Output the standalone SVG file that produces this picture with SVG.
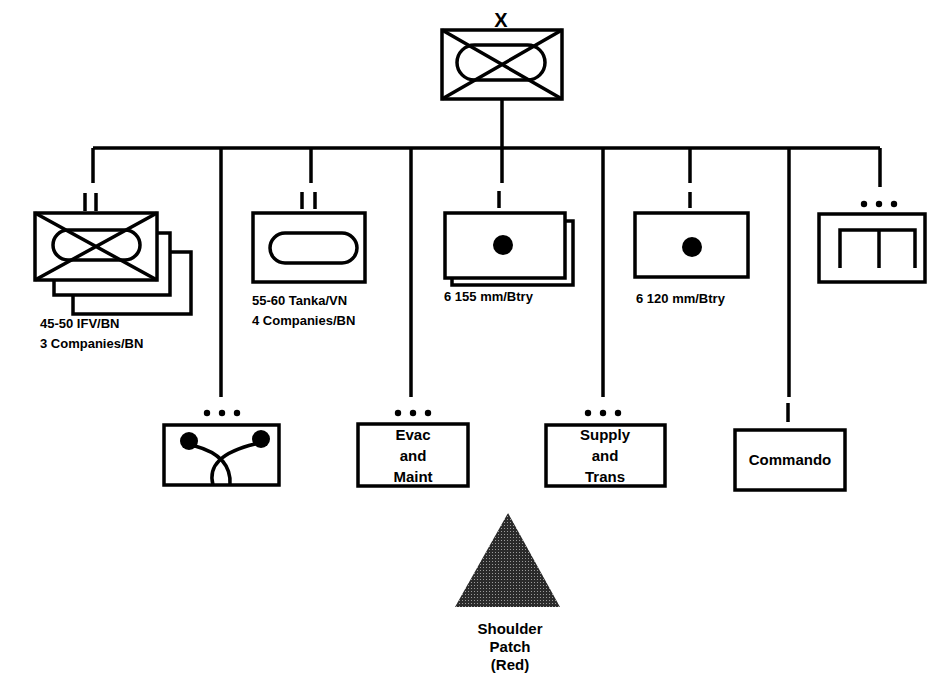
<svg xmlns="http://www.w3.org/2000/svg" width="931" height="688" viewBox="0 0 931 688">
<style>
.bx{fill:#fff;stroke:#000;stroke-width:3.5}
.ln{fill:none;stroke:#000;stroke-width:3.5}
.mk{fill:none;stroke:#000;stroke-width:3.5}
.t{font-family:"Liberation Sans",Arial,sans-serif;font-weight:bold;font-size:13px;fill:#000}
.tb{font-family:"Liberation Sans",Arial,sans-serif;font-weight:bold;font-size:15px;fill:#000;text-anchor:middle}
</style>
<defs>
<pattern id="ht" width="3" height="3" patternUnits="userSpaceOnUse">
<rect width="3" height="3" fill="#2a2a2a"/>
<rect width="1" height="1" fill="#9a9a9a"/>
</pattern>
</defs>
<g id="connectors" class="ln">
<path d="M502,99V183"/>
<path d="M93,148H880"/>
<path d="M93,148V183"/>
<path d="M311,148V183"/>
<path d="M690,148V183"/>
<path d="M880,148V187"/>
<path d="M221,148V397"/>
<path d="M411,148V397"/>
<path d="M603,148V397"/>
<path d="M789,148V397"/>
</g>
<g id="brigade">
<text x="501" y="27" font-family="Liberation Sans,Arial,sans-serif" font-weight="bold" font-size="20" text-anchor="middle">X</text>
<rect class="bx" x="442" y="30" width="120" height="69"/>
<rect class="ln" x="457" y="45" width="88" height="35" rx="17.5"/>
<path class="ln" d="M442,30L562,99M562,30L442,99"/>
</g>
<g id="ifv">
<path class="mk" d="M85,193V211M96,193V211"/>
<rect class="bx" x="73" y="252" width="118" height="62"/>
<rect class="bx" x="54" y="233" width="116" height="62"/>
<rect class="bx" x="35" y="213" width="122" height="67"/>
<rect class="ln" x="53" y="230" width="87" height="30" rx="15"/>
<path class="ln" d="M35,213L157,280M157,213L35,280"/>
<text class="t" x="40" y="328">45-50 IFV/BN</text>
<text class="t" x="40" y="348">3 Companies/BN</text>
</g>
<g id="tank">
<path class="mk" d="M302,192V209M315,192V209"/>
<rect class="bx" x="253" y="213" width="112" height="69"/>
<rect class="ln" x="270" y="233" width="87" height="30" rx="15"/>
<text class="t" x="252" y="305">55-60 Tanka/VN</text>
<text class="t" x="252" y="325">4 Companies/BN</text>
</g>
<g id="art155">
<path class="mk" d="M499,191V208"/>
<rect class="bx" x="452" y="221" width="121" height="64"/>
<rect class="bx" x="445" y="213" width="120" height="65"/>
<circle cx="503" cy="245" r="10"/>
<text class="t" x="444" y="301">6 155 mm/Btry</text>
</g>
<g id="mortar120">
<path class="mk" d="M690,192V208"/>
<rect class="bx" x="635" y="213" width="113" height="64"/>
<circle cx="692" cy="247" r="10"/>
<text class="t" x="636" y="303">6 120 mm/Btry</text>
</g>
<g id="engineer">
<circle cx="864" cy="204" r="3.2"/><circle cx="879" cy="204" r="3.2"/><circle cx="894" cy="204" r="3.2"/>
<rect class="bx" x="819" y="214" width="106" height="68"/>
<path class="ln" d="M840,268V230H915V268M879,230V268"/>
</g>
<g id="signal">
<circle cx="207" cy="413" r="3.2"/><circle cx="222" cy="413" r="3.2"/><circle cx="237" cy="413" r="3.2"/>
<rect class="bx" x="164" y="425" width="115" height="60"/>
<circle cx="189" cy="441" r="9"/>
<circle cx="261" cy="439" r="9"/>
<path class="ln" d="M195,446Q232,456 230,485M255,444Q205,456 213,485"/>
</g>
<g id="evac">
<circle cx="398" cy="413" r="3.2"/><circle cx="413" cy="413" r="3.2"/><circle cx="428" cy="413" r="3.2"/>
<rect class="bx" x="358" y="424" width="110" height="62"/>
<text class="tb" x="413" y="440">Evac</text>
<text class="tb" x="413" y="461">and</text>
<text class="tb" x="413" y="482">Maint</text>
</g>
<g id="supply">
<circle cx="588" cy="413" r="3.2"/><circle cx="603" cy="413" r="3.2"/><circle cx="618" cy="413" r="3.2"/>
<rect class="bx" x="546" y="425" width="119" height="61"/>
<text class="tb" x="605" y="440">Supply</text>
<text class="tb" x="605" y="461">and</text>
<text class="tb" x="605" y="482">Trans</text>
</g>
<g id="commando">
<path class="mk" d="M788,403V422"/>
<rect class="bx" x="735" y="430" width="110" height="60"/>
<text class="tb" x="790" y="465">Commando</text>
</g>
<g id="patch">
<polygon points="508,513 560,607 455,607" fill="url(#ht)"/>
<text class="tb" font-size="14" x="510" y="634">Shoulder</text>
<text class="tb" font-size="14" x="510" y="652">Patch</text>
<text class="tb" font-size="14" x="510" y="670">(Red)</text>
</g>
</svg>
